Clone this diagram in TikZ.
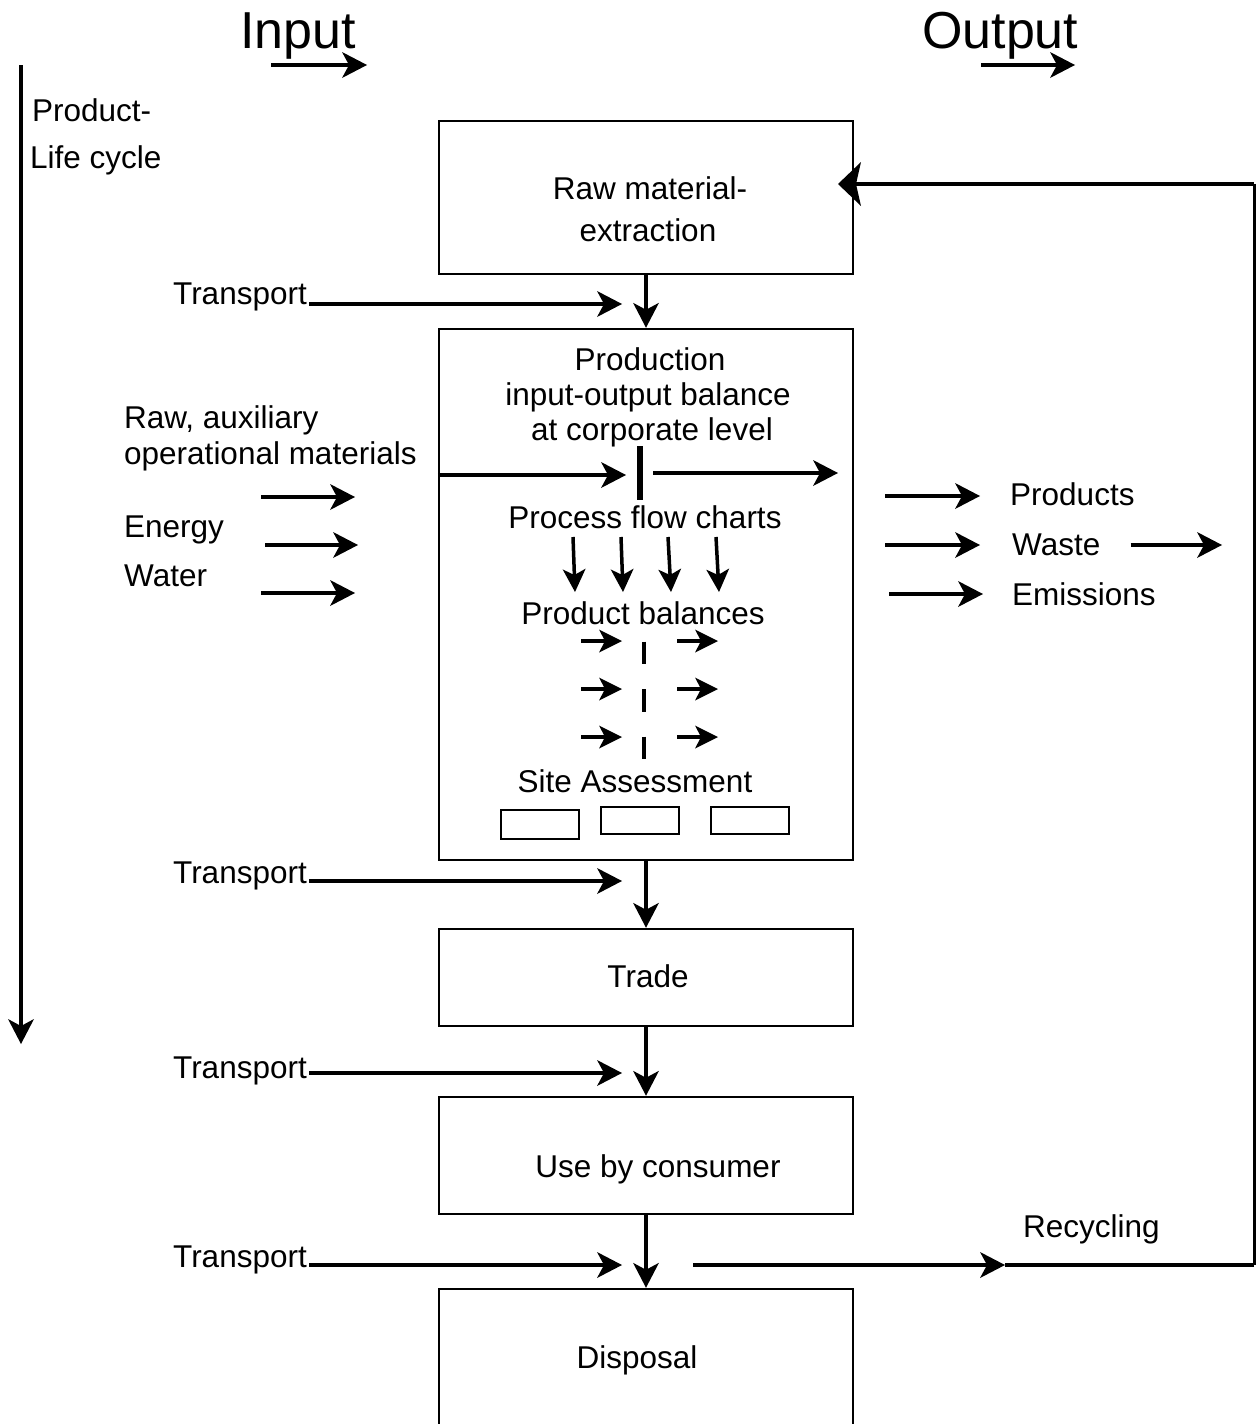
\documentclass[tikz,border=0pt]{standalone}
\usepackage{fontspec}
\setmainfont{Liberation Sans}
\usetikzlibrary{arrows.meta}
\begin{document}
\begin{tikzpicture}[x=1pt,y=-1pt,
  box/.style={draw,line width=2.5pt,minimum width=414pt,inner sep=0pt},
  smallbox/.style={draw,line width=2pt,inner sep=0pt,minimum width=78pt},
  lbl/.style={font=\fontsize{31.5}{38}\selectfont,inner sep=0pt,anchor=base},
  lblw/.style={lbl,anchor=base west},
  lble/.style={lbl,anchor=base east},
  big/.style={font=\fontsize{52}{60}\selectfont,inner sep=0pt,anchor=base west},
  arr/.style={line width=4pt,-{Stealth[length=25pt,width=26pt,inset=7pt,line width=0pt]}},
  sarr/.style={line width=3.5pt,-{Stealth[length=23pt,width=23pt,inset=6pt,line width=0pt]}},
  fbarr/.style={line width=4pt,-{Stealth[length=23pt,width=44pt,inset=5pt,line width=0pt]}},
  plain/.style={line width=4pt}]
\path[use as bounding box,clip] (0,0) rectangle (1256,1424);

% headings
\node[big] (inp) at (240,48) {Input};
\node[big] (outp) at (922,48) {Output};
\coordinate (inpA) at (271,65);  \coordinate (inpB) at (367,65);
\coordinate (outA) at (981,65);  \coordinate (outB) at (1075,65);
\draw[arr] (inpA) -- (inpB);
\draw[arr] (outA) -- (outB);

% life cycle axis
\coordinate (lcTop) at (21,65); \coordinate (lcBot) at (21,1044);
\draw[arr] (lcTop) -- (lcBot);
\node[lblw] (lc1) at (32,121) {Product-};
\node[lblw] (lc2) at (30,168) {Life cycle};

% main stages
\node[box,minimum height=153pt] (raw)   at (646,197.5) {};
\node[box,minimum height=531pt] (prod)  at (646,594.5) {};
\node[box,minimum height=97pt]  (trade) at (646,977.5) {};
\node[box,minimum height=117pt] (use)   at (646,1155.5) {};
\node[box,minimum height=151pt] (disp)  at (646,1364.5) {};

\node[lbl] (rawT1) at (650,199) {Raw material-};
\node[lbl] (rawT2) at (648,241) {extraction};
\node[lbl] (tradeT) at (648,987) {Trade};
\node[lbl] (useT) at (658,1177) {Use by consumer};
\node[lbl] (dispT) at (637,1368) {Disposal};

% stage connectors
\draw[arr] (raw.south) -- (prod.north);
\draw[arr] (prod.south) -- (trade.north);
\draw[arr] (trade.south) -- (use.north);
\draw[arr] (use.south) -- (disp.north);

% transport inputs
\node[lble] (tr1) at (307,304) {Transport};
\node[lble] (tr2) at (307,883) {Transport};
\node[lble] (tr3) at (307,1078) {Transport};
\node[lble] (tr4) at (307,1267) {Transport};
\coordinate (tr1e) at (622,304);
\coordinate (tr2e) at (622,881);
\coordinate (tr3e) at (622,1073);
\coordinate (tr4e) at (622,1265);
\draw[arr] ([xshift=2pt]tr1.base east |- tr1e) -- (tr1e);
\draw[arr] ([xshift=2pt]tr2.base east |- tr2e) -- (tr2e);
\draw[arr] ([xshift=2pt]tr3.base east |- tr3e) -- (tr3e);
\draw[arr] ([xshift=2pt]tr4.base east |- tr4e) -- (tr4e);

% production inputs
\node[lblw] (in1a) at (124,428) {Raw, auxiliary};
\node[lblw] (in1b) at (124,464) {operational materials};
\node[lblw] (in2) at (124,537) {Energy};
\node[lblw] (in3) at (124,586) {Water};
\coordinate (in1s) at (261,497); \coordinate (in1e) at (355,497);
\coordinate (in2s) at (265,545); \coordinate (in2e) at (358,545);
\coordinate (in3s) at (261,593); \coordinate (in3e) at (355,593);
\draw[arr] (in1s) -- (in1e);
\draw[arr] (in2s) -- (in2e);
\draw[arr] (in3s) -- (in3e);

% production outputs
\node[lblw] (out1) at (1010,505) {Products};
\node[lblw] (out2) at (1012,555) {Waste};
\node[lblw] (out3) at (1012,605) {Emissions};
\coordinate (out1s) at (885,496); \coordinate (out1e) at (980,496);
\coordinate (out2s) at (885,545); \coordinate (out2e) at (980,545);
\coordinate (out3s) at (889,594); \coordinate (out3e) at (983,594);
\coordinate (wasteE) at (1222,545);
\draw[arr] (out1s) -- (out1e);
\draw[arr] (out2s) -- (out2e);
\draw[arr] (out3s) -- (out3e);
\draw[arr] ([xshift=30pt]out2.base east |- wasteE) -- (wasteE);

% inside the production box
\node[lbl] (p1) at (650,370) {Production};
\node[lbl] (p2) at (648,405) {input-output balance};
\node[lbl] (p3) at (652,440) {at corporate level};
\coordinate (balIn) at (626,475);
\coordinate (barTop) at (640,446); \coordinate (barBot) at (640,500);
\coordinate (balOutS) at (653,473); \coordinate (balOutE) at (838,473);
\draw[arr] (prod.west |- balIn) -- (balIn);
\draw[line width=6pt] (barTop) -- (barBot);
\draw[arr] (balOutS) -- (balOutE);

\node[lbl] (pfc) at (645,528) {Process flow charts};
\foreach \xa/\xb [count=\i] in {573/575,621/623,668/671,716/719}{
  \coordinate (pfA\i) at (\xa,537);
  \coordinate (pfB\i) at (\xb,592);
  \draw[sarr] (pfA\i) -- (pfB\i);
}

\node[lbl] (pb) at (643,624) {Product balances};
\foreach \y [count=\i] in {641,689,737}{
  \coordinate (pbLa\i) at (581,\y); \coordinate (pbLb\i) at (622,\y);
  \coordinate (pbRa\i) at (677,\y); \coordinate (pbRb\i) at (718,\y);
  \draw[sarr] (pbLa\i) -- (pbLb\i);
  \draw[sarr] (pbRa\i) -- (pbRb\i);
}
\coordinate (dashTop) at (644,641.5); \coordinate (dashBot) at (644,761);
\draw[line width=4.5pt,dash pattern=on 22.5pt off 25pt] (dashTop) -- (dashBot);

\node[lbl] (site) at (635,792) {Site Assessment};
\node[smallbox,minimum height=29pt] (sb1) at (539.7,824) {};
\node[smallbox,minimum height=27.6pt] (sb2) at (639.7,820.5) {};
\node[smallbox,minimum height=27pt] (sb3) at (749.8,820.8) {};

% recycling loop back to raw material extraction
\coordinate (recS) at (693,1265);
\coordinate (recM) at (1005,1265);
\coordinate (recR) at (1254,1265);
\coordinate (fbR) at (1254,184);
\coordinate (fbTip) at (838,184);
\draw[arr] (recS) -- (recM);
\draw[plain] (recM) -- (recR);
\draw[line width=3pt] (recR) -- (fbR);
\draw[fbarr] (fbR) -- (fbTip);
\node[lblw] (recT) at (1023,1237) {Recycling};
\end{tikzpicture}
\end{document}
